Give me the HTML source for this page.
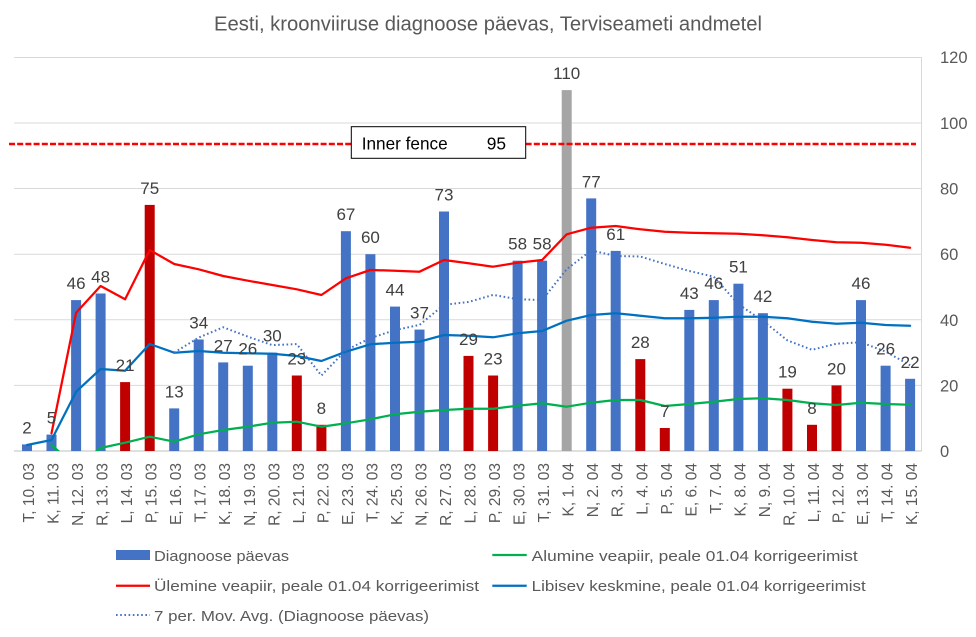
<!DOCTYPE html>
<html><head><meta charset="utf-8"><style>
html,body{margin:0;padding:0;background:#fff;}
svg{display:block;}
text{font-family:"Liberation Sans",Arial,sans-serif;}
</style></head><body>
<svg width="976" height="637" viewBox="0 0 976 637" xmlns="http://www.w3.org/2000/svg">
<defs><clipPath id="pc"><rect x="0" y="50" width="925" height="401"/></clipPath></defs>
<rect width="976" height="637" fill="#fff"/>
<text x="488" y="30.5" font-size="20.5" fill="#595959" text-anchor="middle" textLength="548" lengthAdjust="spacingAndGlyphs">Eesti, kroonviiruse diagnoose päevas, Terviseameti andmetel</text>
<g stroke="#d9d9d9" stroke-width="1">
<line x1="14" y1="57.5" x2="921.5" y2="57.5"/>
<line x1="14" y1="123" x2="921.5" y2="123"/>
<line x1="14" y1="188.5" x2="921.5" y2="188.5"/>
<line x1="14" y1="254.2" x2="921.5" y2="254.2"/>
<line x1="14" y1="319.8" x2="921.5" y2="319.8"/>
<line x1="14" y1="385.4" x2="921.5" y2="385.4"/>
<line x1="921.5" y1="57" x2="921.5" y2="451"/>
</g>
<line x1="14" y1="451" x2="921.5" y2="451" stroke="#bfbfbf" stroke-width="1"/>
<g font-size="16.5" fill="#595959">
<text x="940" y="63">120</text><text x="940" y="129">100</text><text x="940" y="194.5">80</text><text x="940" y="260">60</text><text x="940" y="325.8">40</text><text x="940" y="391.4">20</text><text x="940" y="457">0</text>
</g>
<g>
<rect x="22" y="444.4" width="10" height="6.6" fill="#4472C4"/>
<rect x="46.5" y="434.6" width="10" height="16.4" fill="#4472C4"/>
<rect x="71.1" y="300.1" width="10" height="150.9" fill="#4472C4"/>
<rect x="95.6" y="293.5" width="10" height="157.5" fill="#4472C4"/>
<rect x="120.1" y="382.1" width="10" height="68.9" fill="#C00000"/>
<rect x="144.7" y="204.9" width="10" height="246.1" fill="#C00000"/>
<rect x="169.2" y="408.4" width="10" height="42.6" fill="#4472C4"/>
<rect x="193.7" y="339.5" width="10" height="111.5" fill="#4472C4"/>
<rect x="218.2" y="362.4" width="10" height="88.6" fill="#4472C4"/>
<rect x="242.8" y="365.7" width="10" height="85.3" fill="#4472C4"/>
<rect x="267.3" y="352.6" width="10" height="98.4" fill="#4472C4"/>
<rect x="291.8" y="375.5" width="10" height="75.5" fill="#C00000"/>
<rect x="316.4" y="424.8" width="10" height="26.2" fill="#C00000"/>
<rect x="340.9" y="231.2" width="10" height="219.8" fill="#4472C4"/>
<rect x="365.4" y="254.2" width="10" height="196.8" fill="#4472C4"/>
<rect x="390" y="306.6" width="10" height="144.4" fill="#4472C4"/>
<rect x="414.5" y="329.6" width="10" height="121.4" fill="#4472C4"/>
<rect x="439" y="211.5" width="10" height="239.5" fill="#4472C4"/>
<rect x="463.5" y="355.9" width="10" height="95.1" fill="#C00000"/>
<rect x="488.1" y="375.5" width="10" height="75.5" fill="#C00000"/>
<rect x="512.6" y="260.7" width="10" height="190.3" fill="#4472C4"/>
<rect x="537.1" y="260.7" width="10" height="190.3" fill="#4472C4"/>
<rect x="561.7" y="90.1" width="10" height="360.9" fill="#A5A5A5"/>
<rect x="586.2" y="198.4" width="10" height="252.6" fill="#4472C4"/>
<rect x="610.7" y="250.9" width="10" height="200.1" fill="#4472C4"/>
<rect x="635.3" y="359.1" width="10" height="91.9" fill="#C00000"/>
<rect x="659.8" y="428" width="10" height="23" fill="#C00000"/>
<rect x="684.3" y="309.9" width="10" height="141.1" fill="#4472C4"/>
<rect x="708.8" y="300.1" width="10" height="150.9" fill="#4472C4"/>
<rect x="733.4" y="283.7" width="10" height="167.3" fill="#4472C4"/>
<rect x="757.9" y="313.2" width="10" height="137.8" fill="#4472C4"/>
<rect x="782.4" y="388.7" width="10" height="62.3" fill="#C00000"/>
<rect x="807" y="424.8" width="10" height="26.2" fill="#C00000"/>
<rect x="831.5" y="385.4" width="10" height="65.6" fill="#C00000"/>
<rect x="856" y="300.1" width="10" height="150.9" fill="#4472C4"/>
<rect x="880.6" y="365.7" width="10" height="85.3" fill="#4472C4"/>
<rect x="905.1" y="378.8" width="10" height="72.2" fill="#4472C4"/>
</g>
<g clip-path="url(#pc)" fill="none" stroke-linejoin="round" stroke-linecap="round">
<polyline stroke="#00B050" stroke-width="2.25" points="51.5,445 76.1,466.6 100.6,448 125.1,442.7 149.7,436.7 174.2,441.7 198.7,434.3 223.2,430 247.8,426.7 272.3,422.7 296.8,421.7 321.4,426.7 345.9,423.3 370.4,419.3 395,414.3 419.5,411.7 444,410 468.5,408.7 493.1,408.7 517.6,405.7 542.1,403.3 566.7,406.7 591.2,402.7 615.7,400 640.3,400 664.8,406 689.3,404 713.8,401.7 738.4,399 762.9,398.3 787.4,400 812,403.3 836.5,405 861,402.7 885.6,404 910.1,404.7"/>
<polyline stroke="#FF0000" stroke-width="2.25" points="51.5,433.3 76.1,312.7 100.6,286 125.1,299.3 149.7,250 174.2,264 198.7,269.3 223.2,276 247.8,280.7 272.3,285 296.8,289.3 321.4,295 345.9,278.3 370.4,270 395,270.7 419.5,271.7 444,260 468.5,263.3 493.1,266.7 517.6,262.7 542.1,260 566.7,234.3 591.2,227.7 615.7,226 640.3,229.3 664.8,231.7 689.3,232.7 713.8,233.3 738.4,233.7 762.9,235.3 787.4,237.3 812,240 836.5,242.3 861,242.7 885.6,244.7 910.1,247.7"/>
<polyline stroke="#0070C0" stroke-width="2.25" points="27,445 51.5,440 76.1,391.7 100.6,369 125.1,370.7 149.7,344 174.2,352.7 198.7,351 223.2,352.7 247.8,353.3 272.3,353.7 296.8,356 321.4,361 345.9,351.7 370.4,344.3 395,342.7 419.5,341.7 444,335 468.5,335.7 493.1,337.3 517.6,333.3 542.1,331 566.7,320.7 591.2,315 615.7,313.3 640.3,315.7 664.8,318.3 689.3,318.3 713.8,317.7 738.4,316.7 762.9,316.7 787.4,318.3 812,321.7 836.5,323.7 861,322.7 885.6,325 910.1,325.7"/>
<polyline stroke="#4472C4" stroke-width="2" stroke-dasharray="1.6 2.6" stroke-linecap="butt" points="174.2,352.6 198.7,337.6 223.2,327.3 247.8,336.6 272.3,345.1 296.8,344.1 321.4,375.5 345.9,350.2 370.4,338.1 395,330.1 419.5,324.9 444,304.8 468.5,302 493.1,294.9 517.6,299.2 542.1,300.1 566.7,269.2 591.2,250.4 615.7,256 640.3,256.5 664.8,264 689.3,271 713.8,276.7 738.4,304.3 762.9,320.7 787.4,340.4 812,349.8 836.5,343.7 861,342.3 885.6,351.6 910.1,365.2"/>
</g>
<line x1="9" y1="144" x2="916" y2="144" stroke="#FF0000" stroke-width="2.5" stroke-dasharray="6 2.2"/>
<rect x="351.3" y="126.7" width="174.4" height="31.6" fill="#fff" stroke="#000" stroke-width="1"/>
<text x="361.7" y="149.3" font-size="17.5" fill="#000" textLength="86" lengthAdjust="spacingAndGlyphs">Inner fence</text>
<text x="486.7" y="149.3" font-size="17.5" fill="#000" textLength="19.3" lengthAdjust="spacingAndGlyphs">95</text>
<g font-size="17" fill="#404040" text-anchor="middle">
<text x="27" y="433.4">2</text><text x="51.5" y="423.6">5</text><text x="76.1" y="289.1">46</text><text x="100.6" y="282.5">48</text><text x="125.1" y="371.1">21</text><text x="149.7" y="193.9">75</text><text x="174.2" y="397.4">13</text><text x="198.7" y="328.5">34</text><text x="223.2" y="351.4">27</text><text x="247.8" y="354.7">26</text><text x="272.3" y="341.6">30</text><text x="296.8" y="364.5">23</text><text x="321.4" y="413.8">8</text><text x="345.9" y="220.2">67</text><text x="370.4" y="243.2">60</text><text x="395" y="295.6">44</text><text x="419.5" y="318.6">37</text><text x="444" y="200.5">73</text><text x="468.5" y="344.9">29</text><text x="493.1" y="364.5">23</text><text x="517.6" y="249.7">58</text><text x="542.1" y="249.7">58</text><text x="566.7" y="79.1">110</text><text x="591.2" y="187.4">77</text><text x="615.7" y="239.9">61</text><text x="640.3" y="348.1">28</text><text x="664.8" y="417">7</text><text x="689.3" y="298.9">43</text><text x="713.8" y="289.1">46</text><text x="738.4" y="272.7">51</text><text x="762.9" y="302.2">42</text><text x="787.4" y="377.7">19</text><text x="812" y="413.8">8</text><text x="836.5" y="374.4">20</text><text x="861" y="289.1">46</text><text x="885.6" y="354.7">26</text><text x="910.1" y="367.8">22</text>
</g>
<g font-size="15.5" fill="#595959" text-anchor="end">
<text transform="translate(34,463) rotate(-90)">T, 10. 03</text>
<text transform="translate(58.5,463) rotate(-90)">K, 11. 03</text>
<text transform="translate(83.1,463) rotate(-90)">N, 12. 03</text>
<text transform="translate(107.6,463) rotate(-90)">R, 13. 03</text>
<text transform="translate(132.1,463) rotate(-90)">L, 14. 03</text>
<text transform="translate(156.7,463) rotate(-90)">P, 15. 03</text>
<text transform="translate(181.2,463) rotate(-90)">E, 16. 03</text>
<text transform="translate(205.7,463) rotate(-90)">T, 17. 03</text>
<text transform="translate(230.2,463) rotate(-90)">K, 18. 03</text>
<text transform="translate(254.8,463) rotate(-90)">N, 19. 03</text>
<text transform="translate(279.3,463) rotate(-90)">R, 20. 03</text>
<text transform="translate(303.8,463) rotate(-90)">L, 21. 03</text>
<text transform="translate(328.4,463) rotate(-90)">P, 22. 03</text>
<text transform="translate(352.9,463) rotate(-90)">E, 23. 03</text>
<text transform="translate(377.4,463) rotate(-90)">T, 24. 03</text>
<text transform="translate(402,463) rotate(-90)">K, 25. 03</text>
<text transform="translate(426.5,463) rotate(-90)">N, 26. 03</text>
<text transform="translate(451,463) rotate(-90)">R, 27. 03</text>
<text transform="translate(475.5,463) rotate(-90)">L, 28. 03</text>
<text transform="translate(500.1,463) rotate(-90)">P, 29. 03</text>
<text transform="translate(524.6,463) rotate(-90)">E, 30. 03</text>
<text transform="translate(549.1,463) rotate(-90)">T, 31. 03</text>
<text transform="translate(573.7,463) rotate(-90)">K, 1. 04</text>
<text transform="translate(598.2,463) rotate(-90)">N, 2. 04</text>
<text transform="translate(622.7,463) rotate(-90)">R, 3. 04</text>
<text transform="translate(647.3,463) rotate(-90)">L, 4. 04</text>
<text transform="translate(671.8,463) rotate(-90)">P, 5. 04</text>
<text transform="translate(696.3,463) rotate(-90)">E, 6. 04</text>
<text transform="translate(720.8,463) rotate(-90)">T, 7. 04</text>
<text transform="translate(745.4,463) rotate(-90)">K, 8. 04</text>
<text transform="translate(769.9,463) rotate(-90)">N, 9. 04</text>
<text transform="translate(794.4,463) rotate(-90)">R, 10. 04</text>
<text transform="translate(819,463) rotate(-90)">L, 11. 04</text>
<text transform="translate(843.5,463) rotate(-90)">P, 12. 04</text>
<text transform="translate(868,463) rotate(-90)">E, 13. 04</text>
<text transform="translate(892.6,463) rotate(-90)">T, 14. 04</text>
<text transform="translate(917.1,463) rotate(-90)">K, 15. 04</text>
</g>
<rect x="116" y="550" width="34" height="10" fill="#4472C4"/>
<line x1="116" y1="585.7" x2="150" y2="585.7" stroke="#FF0000" stroke-width="2.25"/>
<line x1="116" y1="615" x2="150" y2="615" stroke="#4472C4" stroke-width="2" stroke-dasharray="1.6 2.6"/>
<line x1="492.3" y1="555" x2="526.7" y2="555" stroke="#00B050" stroke-width="2.25"/>
<line x1="492.3" y1="585.7" x2="526.7" y2="585.7" stroke="#0070C0" stroke-width="2.25"/>
<g font-size="15" fill="#595959">
<text x="154" y="561" textLength="135" lengthAdjust="spacingAndGlyphs">Diagnoose päevas</text>
<text x="154" y="591" textLength="325" lengthAdjust="spacingAndGlyphs">Ülemine veapiir, peale 01.04 korrigeerimist</text>
<text x="154" y="621" textLength="275" lengthAdjust="spacingAndGlyphs">7 per. Mov. Avg. (Diagnoose päevas)</text>
<text x="531.7" y="561" textLength="326" lengthAdjust="spacingAndGlyphs">Alumine veapiir, peale 01.04 korrigeerimist</text>
<text x="531.7" y="591" textLength="334" lengthAdjust="spacingAndGlyphs">Libisev keskmine, peale 01.04 korrigeerimist</text>
</g>
</svg>
</body></html>
